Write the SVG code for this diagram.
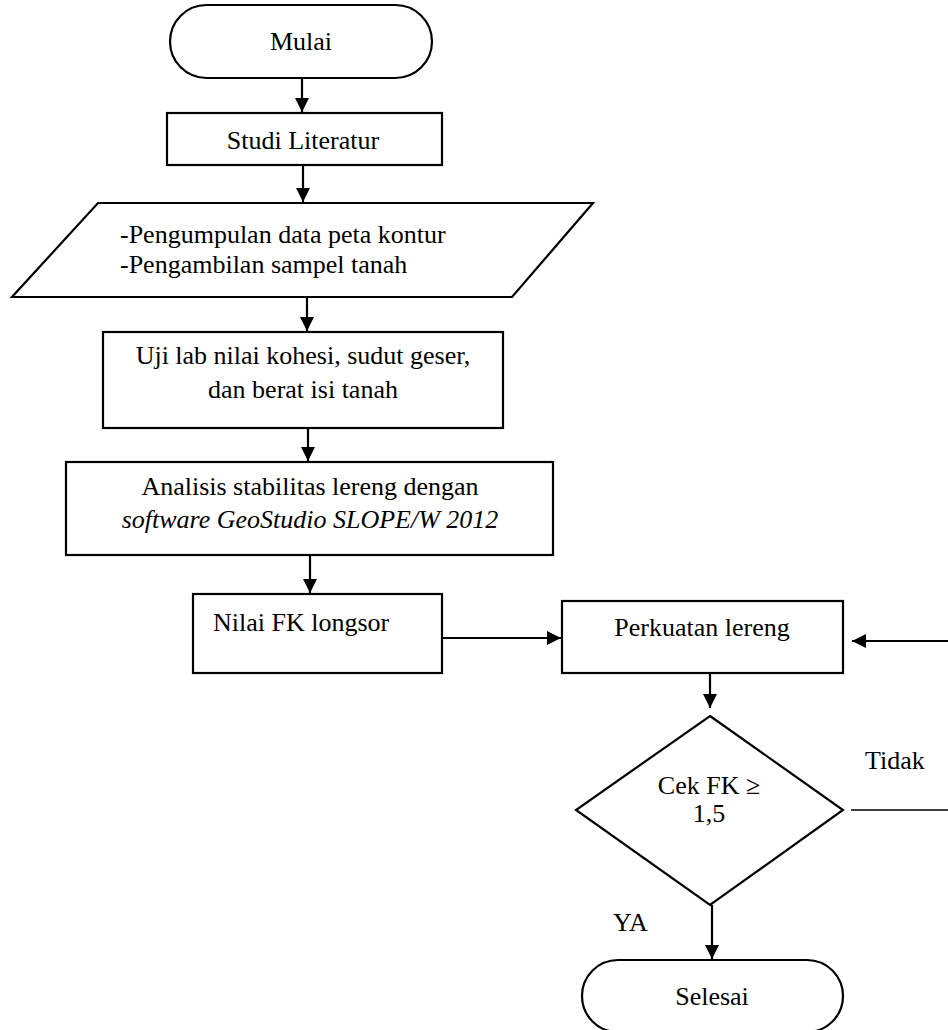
<svg xmlns="http://www.w3.org/2000/svg" width="948" height="1030" viewBox="0 0 948 1030">
<style>
.s{fill:#fff;stroke:#000;stroke-width:2.2}
.t{font-family:"Liberation Serif","Times New Roman",serif;font-size:26px;fill:#000}
.c{text-anchor:middle}
.e{stroke:#000;stroke-width:2.2;fill:none;marker-end:url(#ah)}
</style>
<defs>
<marker id="ah" markerUnits="userSpaceOnUse" markerWidth="14" markerHeight="14" refX="14" refY="7" orient="auto">
<path d="M0,0 L14,7 L0,14 Z" fill="#000"/>
</marker>
</defs>
<rect width="948" height="1030" fill="#fff"/>
<g id="connectors">
<line class="e" x1="302" y1="78" x2="302" y2="112"/>
<line class="e" x1="303" y1="165" x2="303" y2="202"/>
<line class="e" x1="307" y1="297" x2="307" y2="331"/>
<line class="e" x1="308" y1="428" x2="308" y2="461"/>
<line class="e" x1="310" y1="555" x2="310" y2="593"/>
<line class="e" x1="442" y1="638" x2="561" y2="638"/>
<line class="e" x1="948" y1="641" x2="852" y2="641"/>
<line class="e" x1="710" y1="673" x2="710" y2="708"/>
<line class="e" x1="712" y1="905" x2="712" y2="959"/>
<line x1="851" y1="810" x2="948" y2="810" stroke="#000" stroke-width="1.3"/>
</g>
<g id="mulai">
<rect class="s" x="170" y="5" width="262" height="73" rx="36.5"/>
<text class="t c" x="301" y="50">Mulai</text>
</g>
<g id="studi">
<rect class="s" x="167" y="113" width="275" height="52"/>
<text class="t c" x="303" y="149">Studi Literatur</text>
</g>
<g id="data">
<polygon class="s" points="98,203 593,203 512,297 12,297"/>
<text class="t" x="120" y="243">-Pengumpulan data peta kontur</text>
<text class="t" x="120" y="273">-Pengambilan sampel tanah</text>
</g>
<g id="ujilab">
<rect class="s" x="103" y="332" width="400" height="96"/>
<text class="t c" x="303" y="364">Uji lab nilai kohesi, sudut geser,</text>
<text class="t c" x="303" y="398">dan berat isi tanah</text>
</g>
<g id="analisis">
<rect class="s" x="66" y="462" width="487" height="93"/>
<text class="t c" x="310" y="495">Analisis stabilitas lereng dengan</text>
<text class="t c" x="310" y="528" font-style="italic">software GeoStudio SLOPE/W 2012</text>
</g>
<g id="nilai">
<rect class="s" x="193" y="594" width="249" height="79"/>
<text class="t" x="213" y="631">Nilai FK longsor</text>
</g>
<g id="perkuatan">
<rect class="s" x="562" y="601" width="281" height="72"/>
<text class="t c" x="702" y="636">Perkuatan lereng</text>
</g>
<g id="cek">
<polygon class="s" points="710,716 843,810 710,905 576,810"/>
<text class="t c" x="709" y="794">Cek FK ≥</text>
<text class="t c" x="709" y="822">1,5</text>
</g>
<g id="selesai">
<rect class="s" x="582" y="960" width="261" height="72" rx="36"/>
<text class="t c" x="712" y="1005">Selesai</text>
</g>
<g id="labels">
<text class="t" x="865" y="769">Tidak</text>
<text class="t" x="613" y="931">YA</text>
</g>
</svg>
